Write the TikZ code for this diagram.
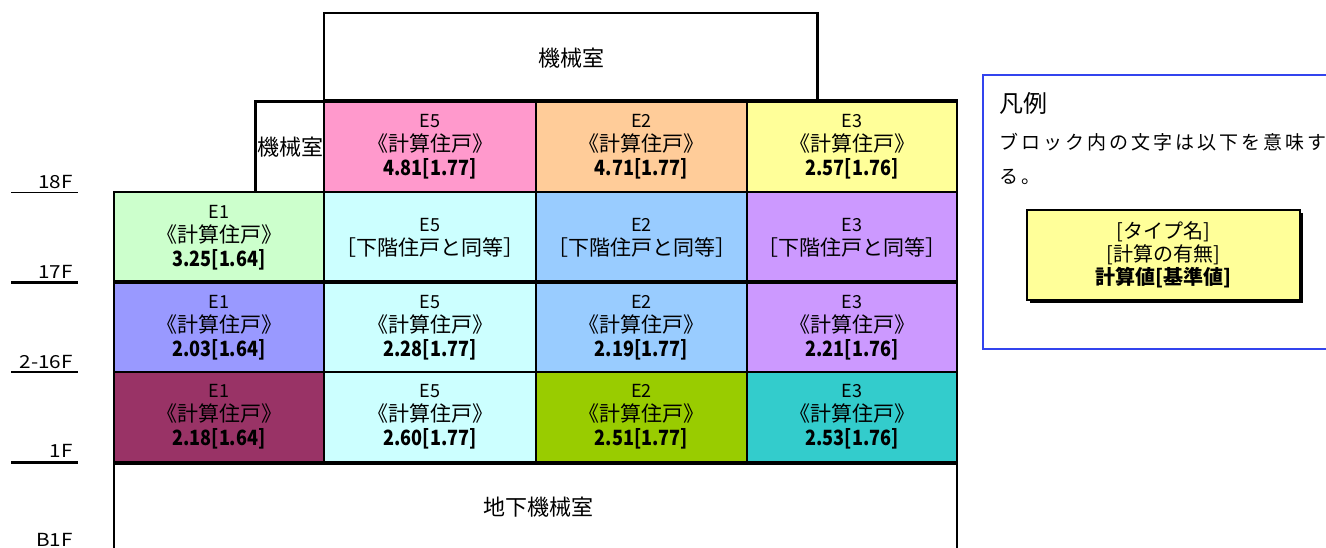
\documentclass[tikz,border=0pt]{standalone}
\usepackage{fontspec}
\setmainfont{Noto Sans CJK JP}
\newcommand\cellfont{\fontsize{18}{24}\selectfont}
\newcommand\cj[1]{{\fontsize{21}{24}\selectfont #1}}
\newcommand\val[1]{{\fontsize{21}{24}\selectfont\bfseries\addfontfeatures{FakeStretch=0.86}#1}}
\newcommand\roomfont{\fontsize{22}{24}\selectfont}
\newcommand\floorfont{\fontsize{18}{20}\selectfont\addfontfeatures{FakeStretch=1.15}}
\definecolor{cpink}{HTML}{FF99CC}
\definecolor{corange}{HTML}{FFCC99}
\definecolor{cyellow}{HTML}{FFFF99}
\definecolor{cmint}{HTML}{CCFFCC}
\definecolor{ccyan}{HTML}{CCFFFF}
\definecolor{cblue}{HTML}{99CCFF}
\definecolor{cviolet}{HTML}{CC99FF}
\definecolor{cperi}{HTML}{9999FF}
\definecolor{cplum}{HTML}{993366}
\definecolor{clime}{HTML}{99CC00}
\definecolor{cteal}{HTML}{33CCCC}
\definecolor{legblue}{HTML}{3344EE}
\tikzset{
  cell/.style={draw=black, line width=2pt, inner sep=0pt, align=center, font=\cellfont},
  colA/.style={minimum width=210pt},
  colB/.style={minimum width=212pt},
  colC/.style={minimum width=211pt},
  colD/.style={minimum width=210pt},
  rowh/.style={minimum height=90pt},
  wall/.style={draw=black, line width=2pt},
  floorline/.style={draw=black},
  floorlabel/.style={anchor=south east, inner sep=0pt, font=\floorfont},
  room/.style={inner sep=0pt, font=\roomfont},
}
\begin{document}
\begin{tikzpicture}[x=1pt, y=-1pt]
\useasboundingbox (0,0) rectangle (1326,548);

% top machine room
\draw[wall, line width=1.5pt] (324,102) -- (324,13) -- (817,13);
\draw[wall, line width=3pt] (817,12.3) -- (817,102);
\node[room] (topmr) at (571,58) {機械室};

% small machine room
\node[room, minimum width=69pt, minimum height=90pt] (smallmr) at (290,147) {機械室};
\draw[wall, line width=3pt] (255,193) -- (255,102) -- (324,102);

% basement
\draw[wall] (114,548) -- (114,462);
\draw[wall] (957,548) -- (957,462);
\node[room] (basemr) at (538,507) {地下機械室};

% row 18F
\node[cell, colB, rowh, fill=cpink]   (e5r18) at (430,147)   {E5\\\cj{《計算住戸》}\\\val{4.81[1.77]}};
\node[cell, colC, rowh, fill=corange] (e2r18) at (641.5,147) {E2\\\cj{《計算住戸》}\\\val{4.71[1.77]}};
\node[cell, colD, rowh, fill=cyellow] (e3r18) at (852,147)   {E3\\\cj{《計算住戸》}\\\val{2.57[1.76]}};
% row 17F
\node[cell, colA, minimum height=91pt, fill=cmint]   (e1r17) at (219,237.5)   {E1\\\cj{《計算住戸》}\\\val{3.25[1.64]}};
\node[cell, colB, minimum height=91pt, fill=ccyan]   (e5r17) at (430,237.5)   {E5\\\cj{［下階住戸と同等］}};
\node[cell, colC, minimum height=91pt, fill=cblue]   (e2r17) at (641.5,237.5) {E2\\\cj{［下階住戸と同等］}};
\node[cell, colD, minimum height=91pt, fill=cviolet] (e3r17) at (852,237.5)   {E3\\\cj{［下階住戸と同等］}};
% row 2-16F
\node[cell, colA, minimum height=89pt, fill=cperi]   (e1r2) at (219,327.5)   {E1\\\cj{《計算住戸》}\\\val{2.03[1.64]}};
\node[cell, colB, minimum height=89pt, fill=ccyan]   (e5r2) at (430,327.5)   {E5\\\cj{《計算住戸》}\\\val{2.28[1.77]}};
\node[cell, colC, minimum height=89pt, fill=cblue]   (e2r2) at (641.5,327.5) {E2\\\cj{《計算住戸》}\\\val{2.19[1.77]}};
\node[cell, colD, minimum height=89pt, fill=cviolet] (e3r2) at (852,327.5)   {E3\\\cj{《計算住戸》}\\\val{2.21[1.76]}};
% row 1F
\node[cell, colA, rowh, fill=cplum] (e1r1) at (219,417)   {E1\\\cj{《計算住戸》}\\\val{2.18[1.64]}};
\node[cell, colB, rowh, fill=ccyan] (e5r1) at (430,417)   {E5\\\cj{《計算住戸》}\\\val{2.60[1.77]}};
\node[cell, colC, rowh, fill=clime] (e2r1) at (641.5,417) {E2\\\cj{《計算住戸》}\\\val{2.51[1.77]}};
\node[cell, colD, rowh, fill=cteal] (e3r1) at (852,417)   {E3\\\cj{《計算住戸》}\\\val{2.53[1.76]}};

% heavier floor lines
\draw[wall, line width=3pt] (e5r18.north west) -- (e3r18.north east);
\draw[wall, line width=3pt] (e1r2.north west) -- (e3r2.north east);
\draw[wall, line width=3.5pt] (e1r1.south west) -- (e3r1.south east);

% floor labels
\draw[floorline, line width=1pt] (11,192.5) -- (78,192.5);
\draw[floorline, line width=3pt] (11,283) -- (78,283);
\draw[floorline, line width=2pt] (11,372) -- (78,372);
\draw[floorline, line width=3pt] (11,462) -- (78,462);
\node[floorlabel] (f18) at (73,188.5) {18F};
\node[floorlabel] (f17) at (73,279) {17F};
\node[floorlabel] (f216) at (73,368.5) {2-16F};
\node[floorlabel] (f1) at (73,458) {1F};
\node[floorlabel] (fb1) at (73,547) {B1F};

% legend
\draw[draw=legblue, line width=1.5pt] (1327,75) -- (983,75) -- (983,349) -- (1327,349);
\node[anchor=west, inner sep=0pt, font=\fontsize{24}{26}\selectfont] (legtitle) at (999,103) {凡例};
\node[anchor=west, inner sep=0pt, font=\fontsize{19}{24}\selectfont\addfontfeatures{LetterSpace=16}] (legtext1) at (999,142) {ブロック内の文字は以下を意味す};
\node[anchor=west, inner sep=0pt, font=\fontsize{19}{24}\selectfont\addfontfeatures{LetterSpace=16}] (legtext2) at (999,177) {る。};
\fill[black] (1030,213) rectangle (1303,303);
\node[draw=black, line width=1.5pt, fill=cyellow, minimum width=273pt, minimum height=90pt, inner sep=0pt, align=center, font=\fontsize{20}{23}\selectfont] (legbox) at (1163.5,255) {[タイプ名]\\{}[計算の有無]\\\textbf{計算値[基準値]}};
\end{tikzpicture}
\end{document}
